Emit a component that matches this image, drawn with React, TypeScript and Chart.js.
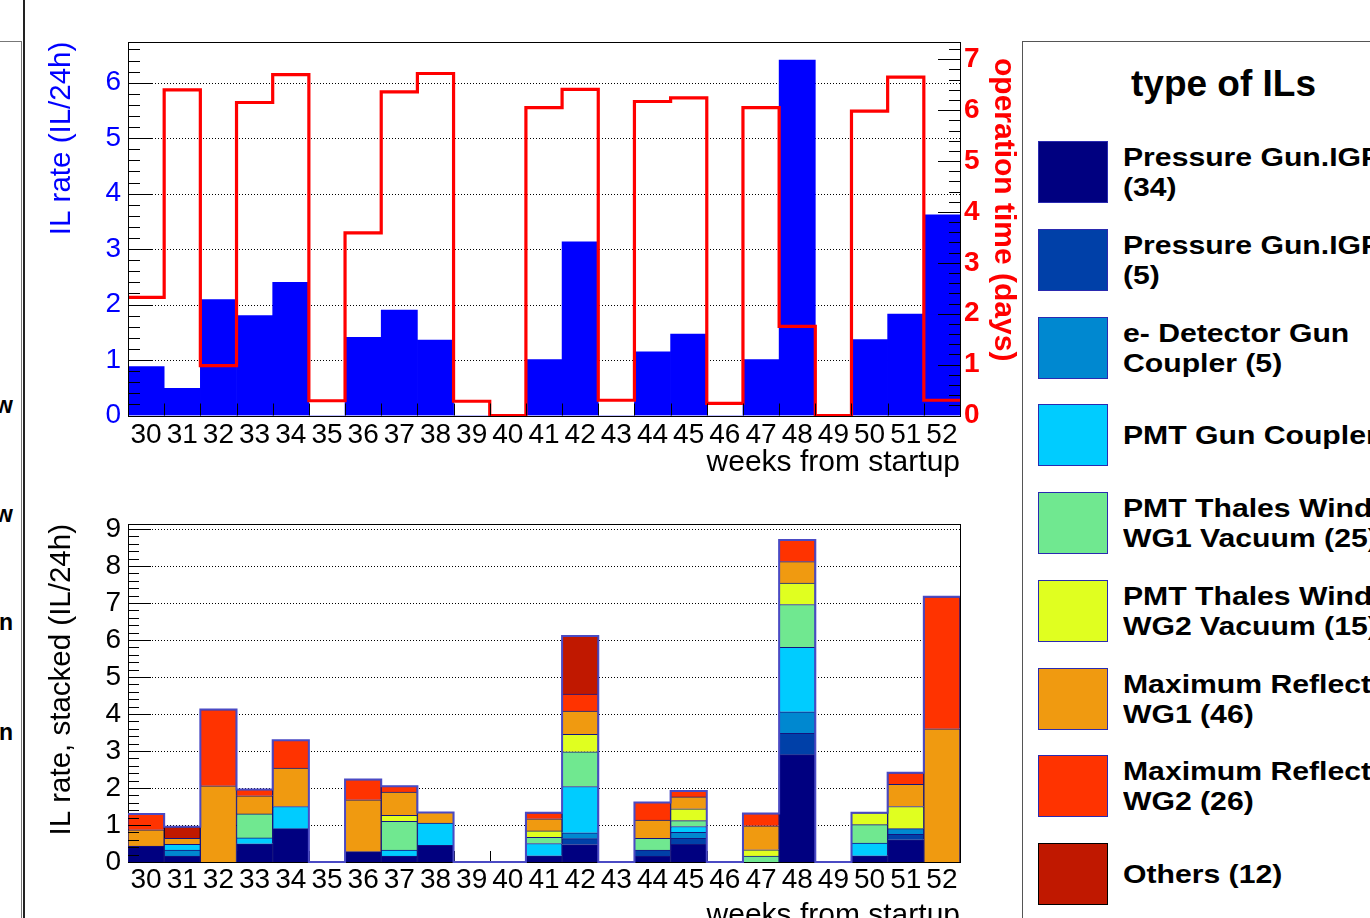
import React, { useEffect, useRef } from 'react';
import { Chart, registerables } from 'chart.js';

Chart.register(...registerables);

const FONT = "'Liberation Sans', Arial, Helvetica, sans-serif";

// ---------- data ----------
const weeks = [30, 31, 32, 33, 34, 35, 36, 37, 38, 39, 40, 41, 42, 43, 44, 45, 46, 47, 48, 49, 50, 51, 52];

const ilRate = [0.88, 0.49, 2.09, 1.8, 2.4, 0, 1.41, 1.9, 1.36, 0, 0, 1.01, 3.13, 0, 1.15, 1.47, 0, 1.01, 6.41, 0, 1.37, 1.83, 3.62];
const operationDays = [2.32, 6.4, 0.98, 6.15, 6.7, 0.29, 3.59, 6.36, 6.72, 0.28, 0, 6.05, 6.41, 0.3, 6.17, 6.24, 0.24, 6.05, 1.75, 0, 5.98, 6.65, 0.3];

const pressureIgp1 = [0.43, 0.16, 0, 0.49, 0.9, 0, 0.28, 0.16, 0.45, 0, 0, 0.17, 0.47, 0, 0.16, 0.48, 0, 0, 2.9, 0, 0.17, 0.6, 0];
const pressureIgp2 = [0, 0, 0, 0, 0, 0, 0, 0, 0, 0, 0, 0, 0.16, 0, 0.16, 0.16, 0, 0, 0.58, 0, 0, 0.15, 0];
const eDetector = [0, 0.16, 0, 0, 0, 0, 0, 0, 0, 0, 0, 0, 0.16, 0, 0, 0.16, 0, 0, 0.58, 0, 0, 0.15, 0];
const pmtGunCoupler = [0, 0.16, 0, 0.16, 0.6, 0, 0, 0.16, 0.6, 0, 0, 0.33, 1.25, 0, 0, 0.16, 0, 0, 1.74, 0, 0.34, 0, 0];
const thalesWg1 = [0, 0, 0, 0.65, 0, 0, 0, 0.78, 0, 0, 0, 0.17, 0.94, 0, 0.32, 0.16, 0, 0.16, 1.16, 0, 0.5, 0, 0];
const thalesWg2 = [0, 0, 0, 0, 0, 0, 0, 0.16, 0, 0, 0, 0.17, 0.47, 0, 0, 0.32, 0, 0.17, 0.58, 0, 0.32, 0.6, 0];
const maxReflWg1 = [0.44, 0.16, 2.06, 0.49, 1.04, 0, 1.4, 0.63, 0.29, 0, 0, 0.33, 0.63, 0, 0.49, 0.32, 0, 0.65, 0.58, 0, 0, 0.6, 3.6];
const maxReflWg2 = [0.43, 0, 2.06, 0.17, 0.75, 0, 0.55, 0.16, 0, 0, 0, 0.16, 0.46, 0, 0.48, 0.16, 0, 0.33, 0.58, 0, 0, 0.31, 3.57];
const others = [0, 0.31, 0, 0, 0, 0, 0, 0, 0, 0, 0, 0, 1.57, 0, 0, 0, 0, 0, 0, 0, 0, 0, 0];

const typeSeries = [pressureIgp1, pressureIgp2, eDetector, pmtGunCoupler, thalesWg1, thalesWg2, maxReflWg1, maxReflWg2, others];
const typeNames = [
  'Pressure Gun.IGP1 (34)',
  'Pressure Gun.IGP2 (5)',
  'e- Detector Gun Coupler (5)',
  'PMT Gun Coupler (27)',
  'PMT Thales Window WG1 Vacuum (25)',
  'PMT Thales Window WG2 Vacuum (15)',
  'Maximum Reflected Power WG1 (46)',
  'Maximum Reflected Power WG2 (26)',
  'Others (12)',
];
const legendLines = [
  ['Pressure Gun.IGP1', '(34)'],
  ['Pressure Gun.IGP2', '(5)'],
  ['e- Detector Gun', 'Coupler (5)'],
  ['PMT Gun Coupler (27)'],
  ['PMT Thales Window', 'WG1 Vacuum (25)'],
  ['PMT Thales Window', 'WG2 Vacuum (15)'],
  ['Maximum Reflected Power', 'WG1 (46)'],
  ['Maximum Reflected Power', 'WG2 (26)'],
  ['Others (12)'],
];
const typeColors = ['#000080', '#0040a8', '#0088d0', '#00ccff', '#70e890', '#e0ff20', '#f09a10', '#ff3300', '#c01800'];
const typeBorders = ['#14147e', '#14147e', '#14147e', '#14147e', '#14147e', '#14147e', '#14147e', '#14147e', '#000000'];

const topLeftTicks = [0, 1, 2, 3, 4, 5, 6];
const topRightTicks = [0, 1, 2, 3, 4, 5, 6, 7];
const bottomLeftTicks = [0, 1, 2, 3, 4, 5, 6, 7, 8, 9];

// ---------- frame plugin (grid, inward ticks, border) ----------
function drawBorder(ctx: any, a: any) {
  ctx.save();
  ctx.strokeStyle = '#000';
  ctx.lineWidth = 1;
  ctx.setLineDash([]);
  ctx.strokeRect(Math.round(a.left) + 0.5, Math.round(a.top) + 0.5, Math.round(a.right - a.left), Math.round(a.bottom - a.top));
  ctx.restore();
}

function drawXTicks(chart: any, o: any) {
  const { ctx, chartArea: a } = chart;
  const xs = chart.scales.x;
  ctx.save();
  ctx.strokeStyle = '#000';
  ctx.lineWidth = 1;
  for (let i = 1; i < weeks.length; i++) {
    const px = Math.round(xs.getPixelForValue(weeks[i] - 0.5)) + 0.5;
    ctx.beginPath();
    ctx.moveTo(px, a.bottom);
    ctx.lineTo(px, a.bottom - o.xTick);
    ctx.stroke();
  }
  ctx.restore();
}

const framePlugin = {
  id: 'frame',
  beforeDatasetsDraw(chart: any, _args: any, o: any) {
    const { ctx, chartArea: a } = chart;
    const ys = chart.scales.y;
    ctx.save();
    ctx.strokeStyle = '#000';
    ctx.lineWidth = 1;
    ctx.setLineDash([1, 2]);
    ys.ticks.forEach((t: any) => {
      if (t.value <= ys.min) return;
      const py = Math.round(ys.getPixelForValue(t.value)) + 0.5;
      ctx.beginPath();
      ctx.moveTo(a.left, py);
      ctx.lineTo(a.right, py);
      ctx.stroke();
    });
    ctx.restore();
    if (o.borderFirst) drawBorder(ctx, a);
    if (o.xTicksFirst) drawXTicks(chart, o);
  },
  afterDatasetsDraw(chart: any, _args: any, o: any) {
    const { ctx, chartArea: a } = chart;
    ctx.save();
    ctx.strokeStyle = '#000';
    ctx.lineWidth = 1;
    const seg = (x1: number, y1: number, x2: number, y2: number) => {
      ctx.beginPath();
      ctx.moveTo(x1, y1);
      ctx.lineTo(x2, y2);
      ctx.stroke();
    };
    const ys = chart.scales.y;
    for (let k = 0; k * 0.2 <= ys.max + 1e-9; k++) {
      const py = Math.round(ys.getPixelForValue(k * 0.2)) + 0.5;
      const len = k % 5 === 0 ? o.leftMajor : o.leftMinor;
      seg(a.left, py, a.left + len, py);
    }
    const yr = chart.scales.y1;
    if (yr) {
      for (let k = 0; k * 0.2 <= yr.max + 1e-9; k++) {
        const py = Math.round(yr.getPixelForValue(k * 0.2)) + 0.5;
        const len = k % 5 === 0 ? o.rightMajor : o.rightMinor;
        seg(a.right, py, a.right - len, py);
      }
    }
    ctx.restore();
    if (!o.xTicksFirst) drawXTicks(chart, o);
    if (!o.borderFirst) drawBorder(ctx, a);
  },
};

const edgePoints = (vals: number[]) =>
  vals.map((v, i) => ({ x: weeks[i] - 0.5, y: v })).concat([{ x: weeks[weeks.length - 1] + 0.5, y: vals[vals.length - 1] }]);

const xAxis = (height: number, pad: number) => ({
  type: 'linear' as const,
  min: weeks[0] - 0.5,
  max: weeks[weeks.length - 1] + 0.5,
  offset: false,
  stacked: true,
  grid: { display: false, drawTicks: false, offset: false },
  border: { display: false },
  afterBuildTicks: (s: any) => {
    s.ticks = weeks.map((w) => ({ value: w }));
  },
  afterFit: (s: any) => {
    s.height = height;
  },
  ticks: {
    autoSkip: false,
    maxRotation: 0,
    minRotation: 0,
    padding: pad,
    color: '#000',
    font: { family: FONT, size: 28 },
    callback: (v: any) => String(v),
  },
  title: {
    display: true,
    text: 'weeks from startup',
    align: 'end' as const,
    color: '#000',
    font: { family: FONT, size: 30 },
    padding: 0,
  },
});

function TopChart() {
  const ref = useRef<HTMLCanvasElement>(null);
  useEffect(() => {
    const chart = new Chart(ref.current as HTMLCanvasElement, {
      type: 'bar',
      data: {
        datasets: [
          {
            type: 'line',
            label: 'operation time (days)',
            data: edgePoints(operationDays),
            yAxisID: 'y1',
            borderColor: '#ff0000',
            borderWidth: 3.2,
            stepped: true,
            pointRadius: 0,
            fill: false,
            clip: false as any,
            order: 0,
          } as any,
          {
            type: 'bar',
            label: 'IL rate (IL/24h)',
            data: ilRate.map((v, i) => ({ x: weeks[i], y: v })),
            yAxisID: 'y',
            backgroundColor: '#0000ff',
            borderWidth: 0,
            barPercentage: 1,
            categoryPercentage: 1,
            order: 1,
          } as any,
        ],
      },
      options: {
        responsive: false,
        animation: false,
        layout: { padding: { top: 41.7, left: 0, right: 0, bottom: 0 } },
        plugins: {
          legend: { display: false },
          tooltip: { enabled: false },
          frame: { leftMajor: 24, leftMinor: 12, rightMajor: 22, rightMinor: 11, xTick: 12, borderFirst: false, xTicksFirst: false },
        } as any,
        scales: {
          x: xAxis(65.5, 3),
          y: {
            position: 'left',
            min: 0,
            max: 6.74,
            grid: { display: false, drawTicks: false },
            border: { display: false },
            afterBuildTicks: (s: any) => {
              s.ticks = topLeftTicks.map((v) => ({ value: v }));
            },
            afterFit: (s: any) => {
              s.width = 128;
            },
            ticks: { padding: 7, color: '#0000ff', font: { family: FONT, size: 28 }, callback: (v: any) => String(v) },
            title: {
              display: true,
              text: 'IL rate (IL/24h)',
              align: 'end',
              color: '#0000ff',
              font: { family: FONT, size: 29.5 },
              padding: { top: 44, bottom: 0 },
            },
          },
          y1: {
            position: 'right',
            min: 0,
            max: 7.345,
            grid: { display: false, drawTicks: false },
            border: { display: false },
            afterBuildTicks: (s: any) => {
              s.ticks = topRightTicks.map((v) => ({ value: v }));
            },
            afterFit: (s: any) => {
              s.width = 62;
            },
            ticks: { padding: 4, color: '#ff0000', font: { family: FONT, size: 28, weight: 'bold' }, callback: (v: any) => String(v) },
            title: { display: false },
          },
        } as any,
      },
      plugins: [framePlugin as any],
    });
    return () => chart.destroy();
  }, []);
  return <canvas ref={ref} width={1022} height={481} style={{ position: 'absolute', left: 0, top: 0 }} />;
}

function BottomChart() {
  const ref = useRef<HTMLCanvasElement>(null);
  useEffect(() => {
    const totals = weeks.map((_, i) => typeSeries.reduce((s, arr) => s + arr[i], 0));
    const chart = new Chart(ref.current as HTMLCanvasElement, {
      type: 'bar',
      data: {
        datasets: [
          {
            type: 'line',
            label: 'total',
            data: edgePoints(totals),
            yAxisID: 'yt',
            borderColor: '#4a4ac4',
            borderWidth: 2,
            stepped: true,
            pointRadius: 0,
            fill: false,
            clip: false as any,
            order: 0,
          } as any,
          ...typeSeries.map(
            (arr, k) =>
              ({
                type: 'bar',
                label: typeNames[k],
                data: arr.map((v, i) => ({ x: weeks[i], y: v })),
                yAxisID: 'y',
                backgroundColor: typeColors[k],
                borderColor: typeBorders[k],
                borderWidth: 1,
                borderSkipped: 'start',
                barPercentage: 1,
                categoryPercentage: 1,
                order: 1,
              } as any)
          ),
        ],
      },
      options: {
        responsive: false,
        animation: false,
        layout: { padding: { top: 43, left: 0, right: 62, bottom: 0 } },
        plugins: {
          legend: { display: false },
          tooltip: { enabled: false },
          frame: { leftMajor: 23, leftMinor: 11, xTick: 11, borderFirst: true, xTicksFirst: true },
        } as any,
        scales: {
          x: xAxis(72, 1),
          y: {
            position: 'left',
            stacked: true,
            min: 0,
            max: 9.135,
            grid: { display: false, drawTicks: false },
            border: { display: false },
            afterBuildTicks: (s: any) => {
              s.ticks = bottomLeftTicks.map((v) => ({ value: v }));
            },
            afterFit: (s: any) => {
              s.width = 128;
            },
            ticks: { padding: 7, color: '#000', font: { family: FONT, size: 28 }, callback: (v: any) => String(v) },
            title: {
              display: true,
              text: 'IL rate, stacked (IL/24h)',
              align: 'end',
              color: '#000',
              font: { family: FONT, size: 29.5 },
              padding: { top: 44, bottom: 0 },
            },
          },
          yt: {
            display: false,
            position: 'left',
            stacked: false,
            min: 0,
            max: 9.135,
          },
        } as any,
      },
      plugins: [framePlugin as any],
    });
    return () => chart.destroy();
  }, []);
  return <canvas ref={ref} width={1022} height={453} style={{ position: 'absolute', left: 0, top: 481 }} />;
}

function RightAxisTitle() {
  return (
    <div
      style={{
        position: 'absolute',
        left: 988,
        top: 58,
        width: 34,
        writingMode: 'vertical-rl',
        fontFamily: FONT,
        fontWeight: 'bold',
        fontSize: 30,
        lineHeight: '34px',
        color: '#ff0000',
        whiteSpace: 'nowrap',
      }}
    >
      operation time (days)
    </div>
  );
}

function Legend() {
  const first = 141;
  const step = 87.75;
  return (
    <>
      <div
        style={{
          position: 'absolute',
          left: 1022,
          top: 41,
          width: 420,
          height: 920,
          border: '1px solid #555',
          boxSizing: 'border-box',
          background: '#fff',
        }}
      />
      <div
        style={{
          position: 'absolute',
          left: 1131,
          top: 64,
          fontFamily: FONT,
          fontWeight: 'bold',
          fontSize: 37,
          lineHeight: '40px',
          whiteSpace: 'nowrap',
          color: '#000',
        }}
      >
        type of ILs
      </div>
      {legendLines.map((lines, i) => {
        const top = first + i * step;
        const center = top + 31;
        return (
          <React.Fragment key={i}>
            <div
              style={{
                position: 'absolute',
                left: 1038,
                top,
                width: 70,
                height: 62,
                boxSizing: 'border-box',
                background: typeColors[i],
                border: `1px solid ${i === 8 ? '#000' : '#2a2ab0'}`,
              }}
            />
            <div
              style={{
                position: 'absolute',
                left: 1123,
                top: center - lines.length * 15,
                fontFamily: FONT,
                fontWeight: 'bold',
                fontSize: 26,
                lineHeight: '30px',
                whiteSpace: 'nowrap',
                color: '#000',
                transform: 'scaleX(1.16)',
                transformOrigin: 'left center',
              }}
            >
              {lines.map((l, j) => (
                <div key={j}>{l}</div>
              ))}
            </div>
          </React.Fragment>
        );
      })}
    </>
  );
}

function LeftPanel() {
  const letters = [
    { t: 'w', top: 394 },
    { t: 'w', top: 503 },
    { t: 'n', top: 611 },
    { t: 'n', top: 721 },
  ];
  return (
    <>
      <div
        style={{
          position: 'absolute',
          left: -10,
          top: 41,
          width: 32,
          height: 900,
          border: '1px solid #777',
          boxSizing: 'border-box',
        }}
      />
      {letters.map((l, i) => (
        <div
          key={i}
          style={{
            position: 'absolute',
            right: 1370 - 13,
            top: l.top,
            fontFamily: FONT,
            fontWeight: 'bold',
            fontSize: 23,
            lineHeight: '22px',
            color: '#000',
            textAlign: 'right',
            whiteSpace: 'nowrap',
          }}
        >
          {l.t}
        </div>
      ))}
      <div style={{ position: 'absolute', left: 23, top: 0, width: 2, height: 918, background: '#222' }} />
    </>
  );
}

export default function App() {
  return (
    <div
      style={{
        position: 'absolute',
        left: 0,
        top: 0,
        width: 1370,
        height: 918,
        overflow: 'hidden',
        background: '#fff',
      }}
    >
      <LeftPanel />
      <TopChart />
      <BottomChart />
      <RightAxisTitle />
      <Legend />
    </div>
  );
}
